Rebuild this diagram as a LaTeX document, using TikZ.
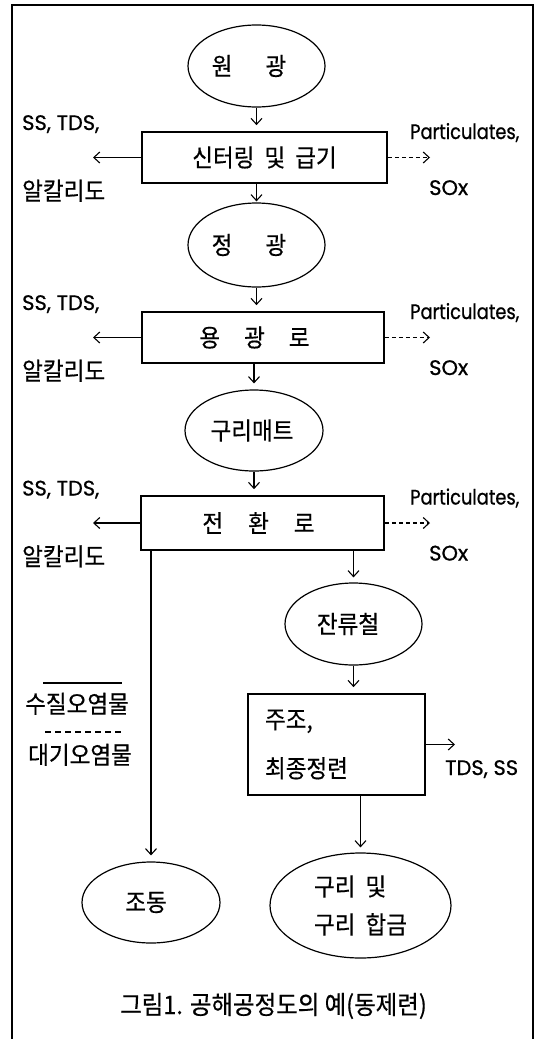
\documentclass[tikz,border=0pt]{standalone}
\usepackage{fontspec}
\setmainfont{Noto Sans CJK KR}[FakeStretch=0.92,FakeBold=0.5]
\newfontfamily\latf{Poppins}[FakeBold=0.8]
\newfontfamily\latn{Poppins}[FakeStretch=0.85,FakeBold=0.8]
\usetikzlibrary{shapes.geometric,arrows.meta}
\begin{document}
\begin{tikzpicture}[x=1pt,y=-1pt,
  kr/.style={font=\fontsize{24.5}{29}\selectfont},
  lt/.style={font=\latf\fontsize{21}{24}\selectfont},
  ln/.style={font=\latn\fontsize{21}{24}\selectfont},
  proc/.style={draw, rectangle, line width=1.7pt, inner sep=0pt, kr},
  ell/.style={draw, ellipse, line width=1.2pt, inner sep=0pt, kr},
  arr/.style={line width=1.1pt, -{Straight Barb[length=6pt,width=11pt]}},
  darr/.style={arr, dash pattern=on 4pt off 3pt},
  gap/.style={shorten >=6pt},
  lab/.style={anchor=base west, inner sep=0pt}]
\useasboundingbox (0,0) rectangle (536,1039);
% frame
\draw[line width=1.4pt] (12,1039) -- (12,5) -- (533,5) -- (533,1039);

% main chain
\node[ell, minimum width=137pt, minimum height=82pt] (wk) at (256.5,66) {원\hspace{33pt}광\hspace*{15pt}};
\node[proc, minimum width=245pt, minimum height=51pt] (s1) at (264.5,157.5) {신터링\hspace{10pt}및\hspace{10pt}급기};
\node[ell, minimum width=137pt, minimum height=84pt] (jk) at (256.5,245) {정\hspace{33pt}광\hspace*{15pt}};
\node[proc, minimum width=242pt, minimum height=51pt] (s2) at (263,337.5) {용\hspace{24pt}광\hspace{24pt}로\hspace*{17pt}};
\node[ell, minimum width=138pt, minimum height=81pt] (gm) at (254,430.5) {구리매트\hspace*{4pt}};
\node[proc, minimum width=243pt, minimum height=54pt] (s3) at (262.5,523) {전\hspace{25pt}환\hspace{25pt}로\hspace*{8pt}};
\node[ell, minimum width=137pt, minimum height=82pt] (jr) at (353.5,624) {잔류철\hspace*{11pt}};
\node[proc, minimum width=177pt, minimum height=101pt, inner xsep=17pt, text width=143pt, align=left,
      font=\fontsize{24.5}{49}\selectfont] (jj) at (336.5,744.5) {주조,\\최종정련};
\node[ell, minimum width=181pt, minimum height=105pt, align=left,
      font=\fontsize{24.5}{38}\selectfont] (cu) at (360.5,905.5) {구리\hspace{10pt}및\\구리\hspace{10pt}합금};
\node[ell, minimum width=138pt, minimum height=81pt] (jd) at (151,902.5) {조동\hspace*{10pt}};

% vertical connectors
\draw[arr, gap] (wk.south) -- (wk.south |- s1.north);
\draw[arr, shorten >=1pt] (jk.north |- s1.south) -- (jk.north);
\draw[arr, gap] (jk.south) -- (jk.south |- s2.north);
\draw[arr, shorten >=6pt] (gm.north |- s2.south) -- (gm.north);
\draw[arr, gap] (gm.south) -- (gm.south |- s3.north);
\draw[arr, shorten >=5pt] (jr.north |- s3.south) -- (jr.north);
\draw[arr, gap] (jr.south) -- (jr.south |- jj.north);
\draw[arr, shorten >=5pt] (cu.north |- jj.south) -- (cu.north);
\draw[arr, shorten >=6pt] (jd.north |- s3.south) -- (jd.north);

% side outputs
\coordinate (l1) at (93,157.5);
\coordinate (r1) at (430,157.5);
\coordinate (l2) at (93,337.5);
\coordinate (r2) at (430,337.5);
\coordinate (l3) at (93,523);
\coordinate (r3) at (430,523);
\coordinate (t4) at (455,744.5);
\draw[arr] (s1.west) -- (l1);
\draw[darr] (s1.east) -- (r1);
\draw[arr] (s2.west) -- (l2);
\draw[darr] (s2.east) -- (r2);
\draw[arr] (s3.west) -- (l3);
\draw[darr] (s3.east) -- (r3);
\draw[arr] (jj.east) -- (t4);

% labels
\node[lab, lt] (a1) at (22,130) {SS, TDS,};
\node[lab, kr] (b1) at (22,200) {알칼리도};
\node[lab, ln] (c1) at (410,139) {Particulates,};
\node[lab, lt] (d1) at (429,195) {SOx};
\node[lab, lt] (a2) at (22,310) {SS, TDS,};
\node[lab, kr] (b2) at (22,380) {알칼리도};
\node[lab, ln] (c2) at (410,319) {Particulates,};
\node[lab, lt] (d2) at (429,375) {SOx};
\node[lab, lt] (a3) at (22,495.5) {SS, TDS,};
\node[lab, kr] (b3) at (22,565.5) {알칼리도};
\node[lab, ln] (c3) at (410,504.5) {Particulates,};
\node[lab, lt] (d3) at (429,560.5) {SOx};
\node[lab, lt] (e4) at (445,775) {TDS, SS};

% legend
\node[lab, kr] (wat) at (25,713) {수질오염물};
\node[lab, kr] (air) at (28,764) {대기오염물};
\draw[line width=1.3pt] (43,683) -- (122,683);
\draw[line width=1.3pt, dash pattern=on 6pt off 4pt] (45,732) -- (122,732);

% caption
\node[kr, font=\fontsize{25.5}{30}\selectfont] (cap) at (273.5,1006) {그림1. 공해공정도의 예(동제련)};
\end{tikzpicture}
\end{document}
